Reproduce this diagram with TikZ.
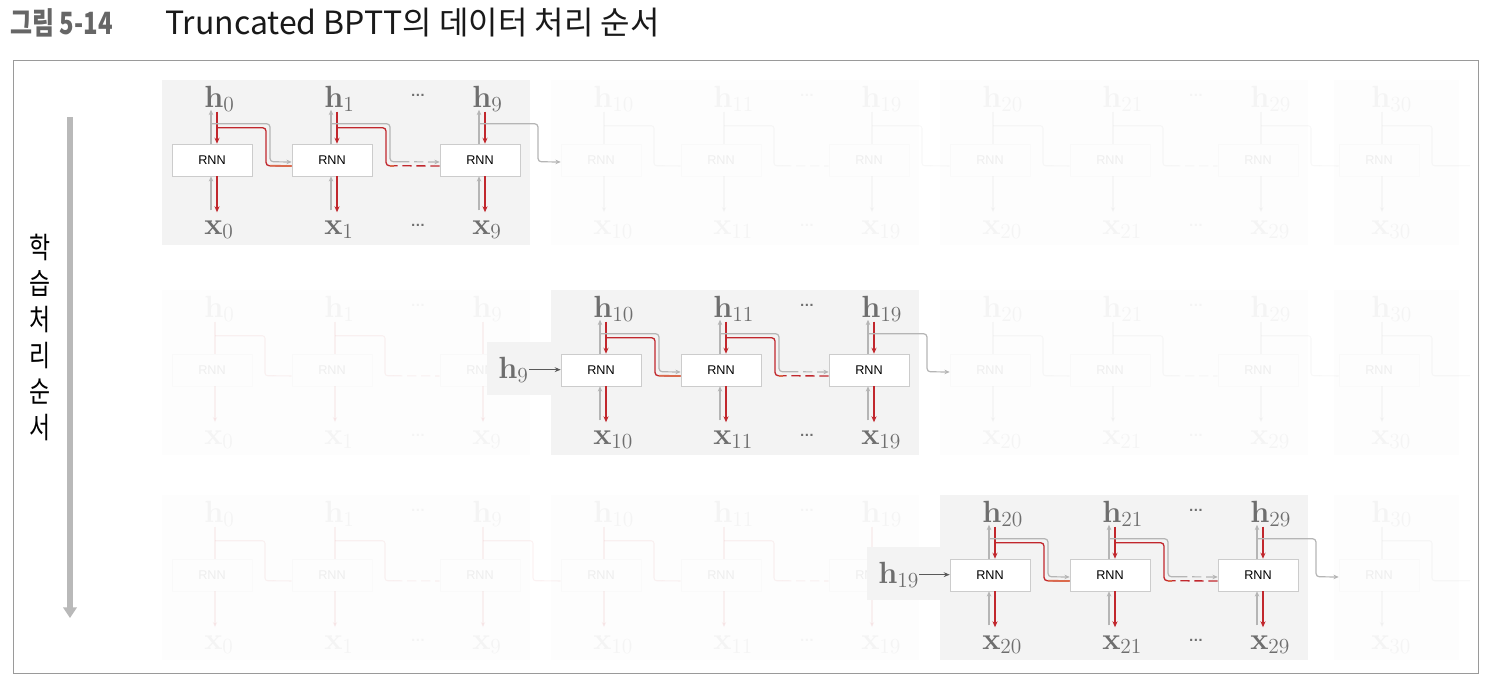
\RequirePackage{fix-cm}
\documentclass[tikz,border=0pt]{standalone}
\usepackage[no-math]{fontspec}
\setmainfont{Noto Sans CJK KR}
\newfontfamily\titlefont[FakeStretch=0.78]{Noto Sans CJK KR}
\newfontfamily\boxfont{Liberation Sans}
\usetikzlibrary{calc,arrows.meta}

\definecolor{fwdgray}{HTML}{B5B5B5}
\definecolor{bwdred}{HTML}{C1272D}
\definecolor{bwdsoft}{HTML}{DB6A4C}
\definecolor{labgray}{HTML}{6E6E6E}
\definecolor{bggray}{HTML}{F3F3F3}
\definecolor{framegray}{HTML}{9A9A9A}
\definecolor{ordergray}{HTML}{B9B9B9}

\tikzset{
  rnn/.style={draw=black!20, fill=white, minimum width=60pt, minimum height=24pt,
    inner sep=0pt, font=\boxfont\fontsize{9.5}{10}\selectfont},
  hlab/.style={anchor=base west, inner sep=0pt, text=labgray, font=\fontsize{23}{23}\selectfont},
  dots/.style={inner sep=0pt, text=labgray, font=\boxfont\bfseries\fontsize{11}{11}\selectfont},
  fwd/.style={draw=fwdgray, line width=0.9pt, -{Stealth[length=4pt,width=3.4pt]}},
  bwd/.style={draw=bwdred, line width=1pt, -{Stealth[length=4.5pt,width=3.8pt]}},
  back/.style={draw=bwdred, line width=1pt, rounded corners=2.5pt},
  feed/.style={draw=black!65, line width=0.8pt, -{Stealth[length=4.5pt,width=3.6pt]}},
  wire/.style={line width=0.8pt, rounded corners=2pt},
  gap/.style={dash pattern=on 7pt off 3.5pt},
}

\begin{document}
\begin{tikzpicture}[x=0.75pt,y=-0.75pt]
\useasboundingbox (0,0) rectangle (1490,686);

% title and frame
\node[anchor=base west, inner sep=0pt, text=black!60, font=\titlefont\bfseries\fontsize{23}{23}\selectfont] (fignum) at (10,34) {그림 5-14};
\node[anchor=base west, inner sep=0pt, text=black!90, font=\fontsize{24}{24}\selectfont] (title) at (165,34) {Truncated BPTT의 데이터 처리 순서};
\draw[framegray, line width=0.75pt] (13,60) rectangle (1478,673);

% order of training
\coordinate (ordtop) at (70,117);
\coordinate (ordbot) at (70,618);
\draw[ordergray, line width=3.8pt, -{Triangle[length=8pt,width=10pt]}] (ordtop) -- (ordbot);
\node[font=\titlefont\fontsize{22}{27}\selectfont, align=center, inner sep=0pt] (order) at (40,337) {학\\습\\처\\리\\순\\서};

% faded blocks
\begin{scope}[opacity=0.06]
\foreach \row/\cy in {0/160,1/370,2/575}{
  \foreach \grp in {0,1,2,3}{
    \pgfmathtruncatemacro\gx{212+389*\grp}
    \ifnum\grp=\row\else
      \ifnum\grp<\row \def\lc{bwdred}\else\def\lc{black!45}\fi
      \ifnum\grp=3
        \fill[bggray, opacity=0.2] (\gx-45,\cy-80) rectangle (\gx+80,\cy+85);
      \else
        \fill[bggray, opacity=0.2] (\gx-50,\cy-80) rectangle (\gx+318,\cy+85);
        \node[dots] (dh-\row-\grp) at (\gx+206,\cy-65) {…};
        \node[dots] (dx-\row-\grp) at (\gx+206,\cy+65) {…};
      \fi
      \foreach \col/\off/\idx in {0/0/0,1/120/1,2/268/9}{
        \pgfmathtruncatemacro\skipit{(\grp==3)&&(\col>0)}
        \ifnum\skipit=0
          \pgfmathtruncatemacro\lab{10*\grp+\idx}
          \pgfmathtruncatemacro\pc{\col-1}
          \pgfmathtruncatemacro\pg{\grp-1}
          \node[rnn] (rnn-\row-\grp-\col) at (\gx+\off,\cy) {RNN};
          \node[hlab] (h-\row-\grp-\col) at (\gx+\off-8,\cy-53) {$\mathbf{h}_{\lab}$};
          \node[hlab] (x-\row-\grp-\col) at (\gx+\off-8,\cy+74) {$\mathbf{x}_{\lab}$};
          \draw[\lc, wire] ($(rnn-\row-\grp-\col.north)+(3,-32)$) -- ($(rnn-\row-\grp-\col.north)+(3,0)$);
          \draw[\lc, wire, -{Stealth[length=4pt,width=3.4pt]}] ($(rnn-\row-\grp-\col.south)+(3,0)$) -- ++(0,36);
          \ifnum\col>0 \edef\prev{rnn-\row-\grp-\pc}\else
            \ifnum\grp>0 \ifnum\pg=\row \def\prev{}\else \edef\prev{rnn-\row-\pg-2}\fi\else \def\prev{}\fi
          \fi
          \ifnum\col=2 \def\tail{gap}\else\def\tail{solid}\fi
          \ifx\prev\empty\else
            \draw[\lc, wire] ($(\prev.north)+(3,-18)$) -- ++(50,0) -- ++(0,40) -- ++(8,0) coordinate (t-\row-\grp-\col);
            \draw[\lc, wire, \tail] (t-\row-\grp-\col) -- ($(rnn-\row-\grp-\col.west)+(0,6)$);
          \fi
          \ifnum\grp=3
            \draw[\lc, wire] ($(rnn-\row-\grp-\col.north)+(3,-18)$) -- ++(50,0) -- ++(0,40) -- ++(38,0);
          \fi
        \fi
      }
    \fi
  }
}
\end{scope}

% active block of each pass
\foreach \row/\cy in {0/160,1/370,2/575}{
  \pgfmathtruncatemacro\gx{212+389*\row}
  \pgfmathtruncatemacro\nx{\row+1}
  \fill[bggray] (\gx-50,\cy-80) rectangle (\gx+318,\cy+85);
  \ifnum\row>0
    \pgfmathtruncatemacro\lab{10*\row-1}
    \fill[bggray] (\gx-105-9*\row,\cy-28) rectangle (\gx-49,\cy+25);
    \node[hlab] (in-\row) at (\gx-94-9*\row,\cy+8) {$\mathbf{h}_{\lab}$};
  \fi
  \node[dots] (dh-\row-\row) at (\gx+206,\cy-65) {…};
  \node[dots] (dx-\row-\row) at (\gx+206,\cy+65) {…};
  \foreach \col/\off/\idx in {0/0/0,1/120/1,2/268/9}{
    \pgfmathtruncatemacro\lab{10*\row+\idx}
    \node[rnn] (rnn-\row-\row-\col) at (\gx+\off,\cy) {RNN};
    \node[hlab] (h-\row-\row-\col) at (\gx+\off-8,\cy-53) {$\mathbf{h}_{\lab}$};
    \node[hlab] (x-\row-\row-\col) at (\gx+\off-8,\cy+74) {$\mathbf{x}_{\lab}$};
    \draw[bwd] ($(rnn-\row-\row-\col.south)+(5,0)$) -- ++(0,36);
    \draw[bwd] ($(rnn-\row-\row-\col.north)+(5,-32)$) -- ($(rnn-\row-\row-\col.north)+(5,0)$);
    \draw[fwd] ($(rnn-\row-\row-\col.south)+(-1,34)$) -- ($(rnn-\row-\row-\col.south)+(-1,0)$);
    \draw[fwd] ($(rnn-\row-\row-\col.north)+(-1,0)$) -- ++(0,-34);
  }
  % backward through time
  \draw[back] ($(rnn-\row-\row-1.west)+(0,6)$) -- ($(rnn-\row-\row-0.north)+(54,22)$) -- ($(rnn-\row-\row-0.north)+(54,-16)$) -- ($(rnn-\row-\row-0.north)+(5,-16)$);
  \draw[bwdsoft, line width=1.3pt] ($(rnn-\row-\row-1.west)+(0,6)$) -- ($(rnn-\row-\row-0.north)+(58,22)$);
  \draw[back, gap] ($(rnn-\row-\row-2.west)+(0,6)$) -- ($(rnn-\row-\row-1.north)+(62,22)$);
  \draw[back] ($(rnn-\row-\row-1.north)+(62,22)$) -- ($(rnn-\row-\row-1.north)+(54,22)$) -- ($(rnn-\row-\row-1.north)+(54,-16)$) -- ($(rnn-\row-\row-1.north)+(5,-16)$);
  \draw[bwdsoft, line width=1.3pt] ($(rnn-\row-\row-1.north)+(62,22)$) -- ($(rnn-\row-\row-1.north)+(58,22)$);
  % forward through time
  \draw[fwd, rounded corners=2.5pt] ($(rnn-\row-\row-0.north)+(-1,-20)$) -- ++(59,0) -- ++(0,38) -- ($(rnn-\row-\row-1.west)+(0,2)$);
  \draw[fwdgray, line width=0.9pt, rounded corners=2.5pt] ($(rnn-\row-\row-1.north)+(-1,-20)$) -- ++(59,0) -- ++(0,38) -- ++(10,0) coordinate (ft-\row);
  \draw[fwd, gap] (ft-\row) -- ($(rnn-\row-\row-2.west)+(0,2)$);
  \draw[fwd, rounded corners=2.5pt] ($(rnn-\row-\row-2.north)+(-1,-20)$) -- ++(59,0) -- ++(0,38) -- ($(rnn-\row-\nx-0.west)+(0,2)$);
  \ifnum\row>0
    \draw[feed] (in-\row.east) -- (in-\row.east -| rnn-\row-\row-0.west);
  \fi
}
\end{tikzpicture}
\end{document}
